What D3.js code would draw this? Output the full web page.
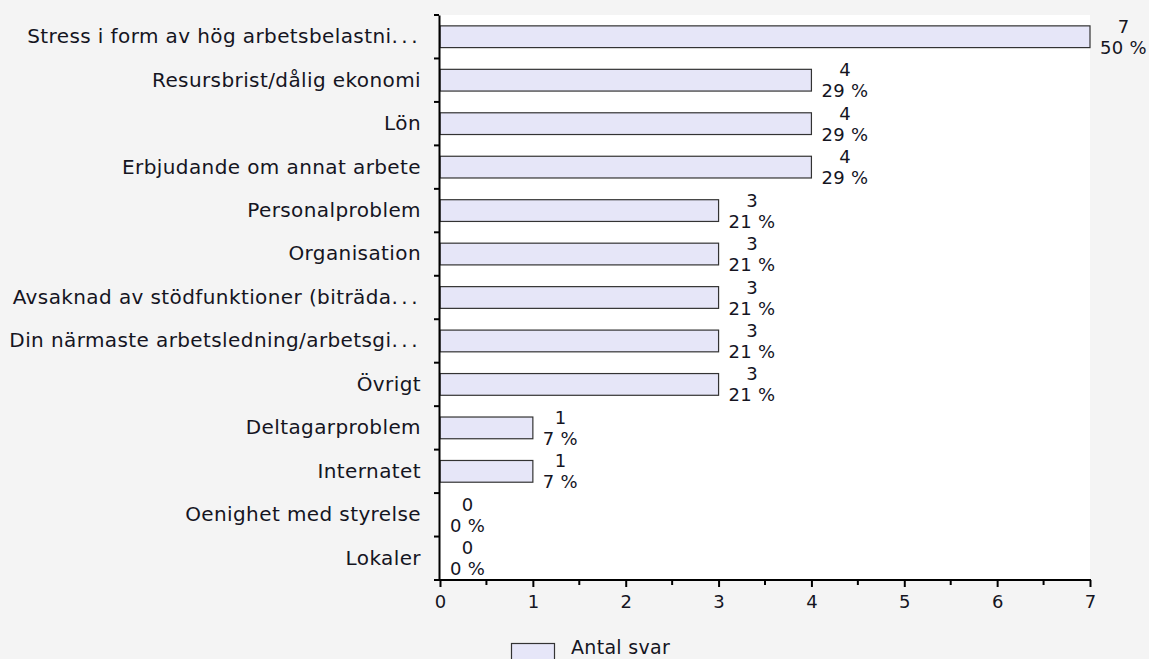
<!DOCTYPE html>
<html><head><meta charset="utf-8">
<script src="https://cdn.jsdelivr.net/npm/d3@7"></script>
<style>
html,body{margin:0;padding:0;background:#f4f4f4;}
svg{display:block;font-family:"DejaVu Sans",Verdana,sans-serif;}
</style></head>
<body>
<svg id="chart" width="1149" height="659"></svg>
<script>
const categories = ["Stress i form av hög arbetsbelastni...","Resursbrist/dålig ekonomi","Lön","Erbjudande om annat arbete","Personalproblem","Organisation","Avsaknad av stödfunktioner (biträda...","Din närmaste arbetsledning/arbetsgi...","Övrigt","Deltagarproblem","Internatet","Oenighet med styrelse","Lokaler"];
const counts = [7,4,4,4,3,3,3,3,3,1,1,0,0];
const percents = ["50 %","29 %","29 %","29 %","21 %","21 %","21 %","21 %","21 %","7 %","7 %","0 %","0 %"];
const xTicks = [0,1,2,3,4,5,6,7];
const seriesName = "Antal svar";

const svg = d3.select("#chart");
const L = 440, R = 1090, T = 15, B = 580;
const textColor = "#15151f";
const barFill = "#e6e6f8";

svg.append("rect").attr("x",L).attr("y",T).attr("width",R-L).attr("height",B-T).attr("fill","#fff");

const x = d3.scaleLinear().domain([0,7]).range([L,R]);
const y = d3.scaleBand().domain(categories).range([T,B]).paddingInner(0.5).paddingOuter(0.25);

// bars
svg.selectAll("rect.bar").data(categories).enter().append("rect")
  .attr("class","bar")
  .attr("x",x(0))
  .attr("y",d=>y(d))
  .attr("width",(d,i)=>x(counts[i])-x(0))
  .attr("height",y.bandwidth())
  .attr("fill",barFill)
  .attr("stroke","#333")
  .attr("stroke-width",1.2);

// value labels
categories.forEach((c,i)=>{
  const cy = y(c)+y.bandwidth()/2;
  const x0 = x(counts[i]) + 10;
  const pt = svg.append("text").attr("x",x0).attr("y",cy+17)
    .attr("font-size",18).attr("letter-spacing",0.3).attr("fill",textColor).text(percents[i]);
  const w = pt.node().getComputedTextLength();
  svg.append("text").attr("x",x0+w/2).attr("y",cy-4).attr("text-anchor","middle")
    .attr("font-size",18).attr("fill",textColor).text(counts[i]);
});

// y axis
const yAxis = svg.append("g").attr("transform",`translate(${L-1},0)`)
  .call(d3.axisLeft(y).tickSize(0).tickPadding(18));
yAxis.select(".domain").attr("stroke","#000").attr("stroke-width",2);
yAxis.selectAll("text").attr("font-size",20).attr("letter-spacing",0.4).attr("fill",textColor)
  .attr("font-family","DejaVu Sans, Verdana, sans-serif").attr("dy","0.32em")
  .each(function(d){
    const t = d3.select(this);
    if (d.endsWith("...")) {
      t.text(null);
      t.append("tspan").text(d.slice(0,-3));
      t.append("tspan").attr("letter-spacing",3.5).text("...");
    }
  });
const step = y.step();
const bounds = d3.range(categories.length+1).map(i=>T+i*step);
svg.selectAll("line.ytick").data(bounds).enter().append("line")
  .attr("x1",L-6).attr("x2",L-1).attr("y1",d=>d).attr("y2",d=>d)
  .attr("stroke","#000").attr("stroke-width",2);

// x axis
const xAxis = svg.append("g").attr("transform",`translate(0,${B})`)
  .call(d3.axisBottom(x).tickValues(xTicks).tickSize(7).tickPadding(8).tickFormat(d3.format("d")));
xAxis.select(".domain").attr("stroke","#000").attr("stroke-width",2).attr("d",`M${L-1},0H${R+1}`);
xAxis.selectAll(".tick line").attr("stroke","#000").attr("stroke-width",2);
xAxis.selectAll("text").attr("font-size",18).attr("fill",textColor)
  .attr("font-family","DejaVu Sans, Verdana, sans-serif");
const minor = xTicks.slice(0,-1).map(d=>d+0.5);
xAxis.selectAll("line.minor").data(minor).enter().append("line")
  .attr("x1",d=>x(d)).attr("x2",d=>x(d)).attr("y1",0).attr("y2",5)
  .attr("stroke","#000").attr("stroke-width",2);

// legend
svg.append("rect").attr("x",511.5).attr("y",643.5).attr("width",43).attr("height",22)
  .attr("fill",barFill).attr("stroke","#333").attr("stroke-width",1.2);
svg.append("text").attr("x",571).attr("y",654).attr("font-size",19).attr("letter-spacing",0.3).attr("fill",textColor).text(seriesName);
</script>
</body></html>
